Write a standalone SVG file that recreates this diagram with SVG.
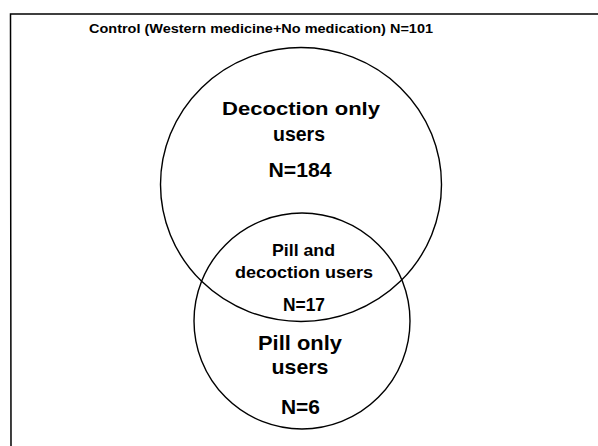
<svg xmlns="http://www.w3.org/2000/svg" width="598" height="446" viewBox="0 0 598 446">
<style>
.t{font-family:"Liberation Sans",Arial,sans-serif;font-weight:bold;fill:#000;text-anchor:middle}
.c{fill:none;stroke:#000;stroke-width:1.4}
.f{fill:none;stroke:#000;stroke-width:1.5}
</style>
<rect width="598" height="446" fill="#fff"/>
<g id="frame">
<polyline class="f" points="11,446 10.5,14 598,14"/>
<text class="t" x="261" y="32.5" font-size="13" textLength="344" lengthAdjust="spacingAndGlyphs">Control (Western medicine+No medication) N=101</text>
</g>
<g id="decoction">
<ellipse class="c" cx="301" cy="184.5" rx="140.5" ry="137"/>
<text class="t" x="301" y="115" font-size="19" textLength="158" lengthAdjust="spacingAndGlyphs">Decoction only</text>
<text class="t" x="299" y="140.5" font-size="19.5" textLength="52" lengthAdjust="spacingAndGlyphs">users</text>
<text class="t" x="300" y="176.5" font-size="19.5" textLength="63" lengthAdjust="spacingAndGlyphs">N=184</text>
</g>
<g id="pill">
<circle class="c" cx="302" cy="321" r="108"/>
<text class="t" x="300" y="349.5" font-size="21" textLength="84" lengthAdjust="spacingAndGlyphs">Pill only</text>
<text class="t" x="300" y="374" font-size="21" textLength="57" lengthAdjust="spacingAndGlyphs">users</text>
<text class="t" x="300.5" y="413.5" font-size="21" textLength="39" lengthAdjust="spacingAndGlyphs">N=6</text>
</g>
<g id="both">
<text class="t" x="303.5" y="256" font-size="16.5" textLength="63" lengthAdjust="spacingAndGlyphs">Pill and</text>
<text class="t" x="304" y="277.5" font-size="16.5" textLength="138" lengthAdjust="spacingAndGlyphs">decoction users</text>
<text class="t" x="304" y="311" font-size="19" textLength="42" lengthAdjust="spacingAndGlyphs">N=17</text>
</g>
<g id="connectors"></g>
</svg>
